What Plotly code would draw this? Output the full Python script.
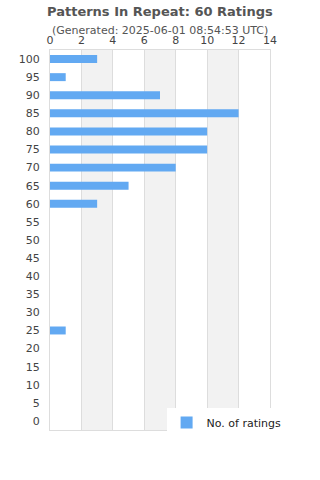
import plotly.graph_objects as go

ratings = [100, 95, 90, 85, 80, 75, 70, 65, 60, 55, 50, 45, 40, 35, 30, 25, 20, 15, 10, 5, 0]
counts = [3, 1, 7, 12, 10, 10, 8, 5, 3, 0, 0, 0, 0, 0, 0, 1, 0, 0, 0, 0, 0]
x_ticks = [0, 2, 4, 6, 8, 10, 12, 14]
title = "Patterns In Repeat: 60 Ratings"
subtitle = "(Generated: 2025-06-01 08:54:53 UTC)"
series_name = "No. of ratings"

fig = go.Figure()
fig.add_trace(go.Bar(
    x=counts, y=ratings, orientation="h", width=2.2,
    marker=dict(color="#62a9f2", line=dict(width=0)),
    name=series_name, showlegend=True,
))

shapes = []
for i in range(1, len(x_ticks) - 1, 2):
    shapes.append(dict(type="rect", xref="x", yref="paper", x0=x_ticks[i], x1=x_ticks[i + 1],
                       y0=0, y1=1, fillcolor="#f2f2f2", line=dict(width=0), layer="below"))

fig.update_layout(
    width=320, height=480,
    margin=dict(l=50, r=50, t=50, b=50),
    paper_bgcolor="white", plot_bgcolor="white",
    font=dict(family="DejaVu Sans", size=11, color="#444"),
    shapes=shapes,
    showlegend=True,
    legend=dict(x=0.53, y=0.02, xanchor="left", yanchor="middle", bgcolor="white",
                font=dict(size=11, color="#222"), itemwidth=30),
    annotations=[
        dict(text="<b>" + title + "</b>", x=0.5, y=1 + (50 - 11) / 380, xref="paper", yref="paper",
             yanchor="middle", showarrow=False, font=dict(size=13, color="#555")),
        dict(text=subtitle, xref="paper", yref="paper", x=0.5, y=1 + (50 - 30) / 380,
             yanchor="middle", showarrow=False, font=dict(size=11, color="#555")),
    ],
    xaxis=dict(side="top", range=[0, 14], tickvals=x_ticks, showgrid=True, gridcolor="#dddddd",
               zeroline=False, showline=True, linecolor="#dddddd", mirror=True,
               ticks="outside", ticklen=1, tickcolor="rgba(0,0,0,0)",
               tickfont=dict(size=11, color="#444")),
    yaxis=dict(range=[-2.5, 102.5], tickvals=ratings, showgrid=False, zeroline=False,
               showline=True, linecolor="#dddddd", mirror=True,
               ticks="outside", ticklen=7, tickcolor="rgba(0,0,0,0)",
               tickfont=dict(size=11, color="#444")),
)

fig.write_html("out.html")
